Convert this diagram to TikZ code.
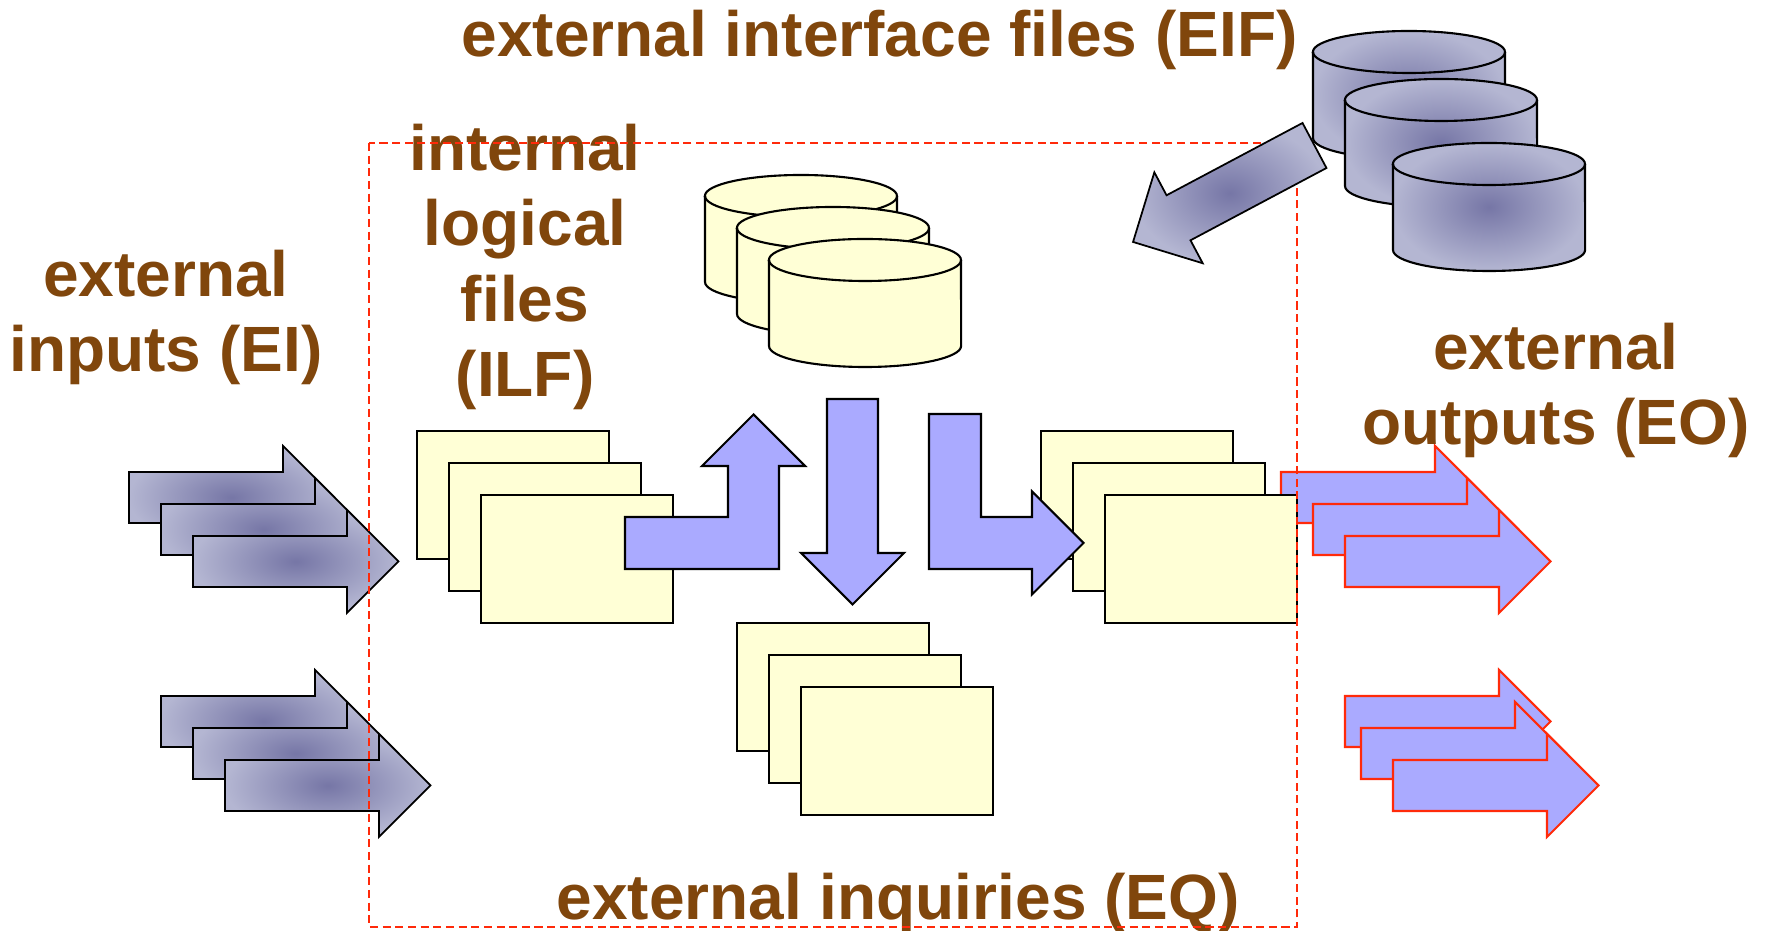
\documentclass[tikz,border=0pt]{standalone}
\usepackage{fontspec}
\setmainfont{Liberation Sans}
\definecolor{labelbrown}{RGB}{128,70,12}
\definecolor{fileyellow}{RGB}{255,255,214}
\definecolor{flowblue}{RGB}{170,170,255}
\definecolor{extlight}{RGB}{180,182,210}
\definecolor{extdark}{RGB}{118,118,166}
\definecolor{borderred}{RGB}{255,42,10}
\tikzset{
	filebox/.style={draw, line width=0.6pt, fill=fileyellow, anchor=north west,
		inner sep=0pt, outer sep=0pt, minimum width=1.92cm, minimum height=1.28cm},
	flowarrow/.style={draw, line width=0.6pt, fill=flowblue},
	extarrow/.style={draw, line width=0.5pt, inner color=extdark, outer color=extlight},
	outarrow/.style={draw=borderred, line width=0.6pt, fill=flowblue},
	ilfdisk/.style={draw, line width=0.6pt, fill=fileyellow},
	eifdisk/.style={draw, line width=0.6pt, inner color=extdark, outer color=extlight},
	bigtext/.style={text=labelbrown, font=\fontsize{18.2pt}{21.5pt}\selectfont\bfseries,
		inner sep=0pt, align=center},
	boundary/.style={draw=borderred, line width=0.7pt, dash pattern=on 2.3pt off 1.3pt},
	blockarrow/.pic={
		\path[#1] (0,-25.5) -- (154,-25.5) -- (154,-51.5) -- (205.5,0)
			-- (154,51.5) -- (154,25.5) -- (0,25.5) -- cycle;
	},
	disk/.pic={
		\path[#1] (0,21) -- (0,107)
			arc[start angle=180, end angle=360, x radius=0.96cm, y radius=0.21cm]
			-- (192,21)
			arc[start angle=0, end angle=180, x radius=0.96cm, y radius=0.21cm] -- cycle;
		\draw[line width=0.6pt] (0,21)
			arc[start angle=180, end angle=360, x radius=0.96cm, y radius=0.21cm];
	}
}
\begin{document}
\begin{tikzpicture}[x=0.01cm, y=-0.01cm]
	\useasboundingbox (0,0) rectangle (1768,931);

	% external inputs
	\pic at (129,497.5) {blockarrow=extarrow};
	\pic at (161,529.5) {blockarrow=extarrow};
	\pic at (193,561.5) {blockarrow=extarrow};
	\pic at (161,721.5) {blockarrow=extarrow};
	\pic at (193,753.5) {blockarrow=extarrow};
	\pic at (225,785.5) {blockarrow=extarrow};

	% internal logical files
	\node[filebox] (ilf_0) at (417,431) {};
	\node[filebox] (ilf_1) at (449,463) {};
	\node[filebox] (ilf_2) at (481,495) {};
	\pic at (705,175) {disk=ilfdisk};
	\pic at (737,207) {disk=ilfdisk};
	\pic at (769,239) {disk=ilfdisk};

	% external outputs
	\pic at (1281,497.5) {blockarrow=outarrow};
	\pic at (1313,529.5) {blockarrow=outarrow};
	\pic at (1345,561.5) {blockarrow=outarrow};
	\pic at (1345,721.5) {blockarrow=outarrow};
	\pic at (1361,753.5) {blockarrow=outarrow};
	\pic at (1393,785.5) {blockarrow=outarrow};
	\node[filebox] (eo_0) at (1041,431) {};
	\node[filebox] (eo_1) at (1073,463) {};
	\node[filebox] (eo_2) at (1105,495) {};

	% external inquiries
	\node[filebox] (eq_0) at (737,623) {};
	\node[filebox] (eq_1) at (769,655) {};
	\node[filebox] (eq_2) at (801,687) {};

	% flows
	\path[flowarrow] (625,517) -- (728,517) -- (728,466) -- (702,466) -- (753.5,414.5)
		-- (805,466) -- (779,466) -- (779,569) -- (625,569) -- cycle;
	\path[flowarrow] (827,399) -- (878,399) -- (878,553) -- (904,553) -- (852.5,604.5)
		-- (801,553) -- (827,553) -- cycle;
	\path[flowarrow] (929,414) -- (981,414) -- (981,517) -- (1032,517) -- (1032,491.5)
		-- (1083.5,543) -- (1032,594.5) -- (1032,569) -- (929,569) -- cycle;

	\node[bigtext, anchor=base] (ei) at (166,372) {external\\inputs (EI)};
	\node[bigtext, anchor=base] (ilf) at (525,397) {internal\\logical\\files\\(ILF)};
	\node[bigtext, anchor=base] (eo) at (1556,445) {external\\outputs (EO)};
	\node[bigtext, anchor=base west] (eif) at (461,57) {external interface files (EIF)};
	\node[bigtext, anchor=base west] (eq) at (556,920) {external inquiries (EQ)};

	\draw[boundary] (369,143) rectangle (1297,927);

	% external interface files
	\pic at (1313,31) {disk=eifdisk};
	\pic at (1345,79) {disk=eifdisk};
	\pic at (1393,143) {disk=eifdisk};
	\pic[rotate=208] at (1314.5,145.5) {blockarrow=extarrow};
\end{tikzpicture}
\end{document}
